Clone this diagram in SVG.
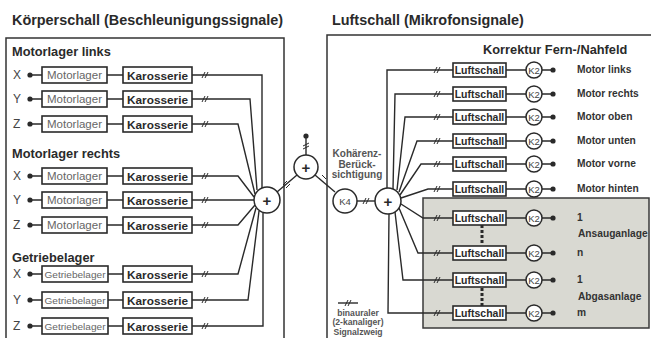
<svg xmlns="http://www.w3.org/2000/svg" width="651" height="338" viewBox="0 0 651 338">
<defs>
<style>
text{font-family:"Liberation Sans",Arial,sans-serif;fill:#2a2a2a}
.title{font-size:14.4px;font-weight:bold}
.sub{font-size:12.8px;font-weight:bold}
.axis{font-size:12px;fill:#444}
.ml{font-size:11.5px;fill:#666}
.gl{font-size:9px;fill:#666}
.kar{font-size:11.8px;font-weight:bold}
.lu{font-size:10.5px;font-weight:bold}
.k{font-size:9.5px;fill:#444}
.lab{font-size:10.2px;font-weight:bold;fill:#333}
.sm{font-size:10px;font-weight:bold;fill:#555}
.leg{font-size:8.6px;font-weight:bold;fill:#555}
.panel{fill:none;stroke:#333;stroke-width:1.5}
.box{fill:#fff;stroke:#2a2a2a;stroke-width:1.6}
.w{fill:none;stroke:#2a2a2a;stroke-width:1.4}
.c{fill:#fff;stroke:#2a2a2a;stroke-width:1.5}
.dot{fill:#2a2a2a}
.tick{fill:none;stroke:#2a2a2a;stroke-width:1}
.plus{font-size:15px;font-weight:bold;fill:#2a2a2a}
</style>
</defs>
<rect width="651" height="338" fill="#fff"/>
<text class="title" x="12" y="25">Körperschall (Beschleunigungssignale)</text>
<text class="title" x="332" y="25">Luftschall (Mikrofonsignale)</text>
<rect class="panel" x="6" y="38" width="278" height="310"/>
<rect class="panel" x="327" y="35" width="330" height="313"/>
<rect x="423" y="198" width="226" height="130" fill="#d9d9d2" stroke="#3a3a3a" stroke-width="1.5"/>

<g id="connectors">
<path class="w" d="M192 75H262V188"/>
<path class="w" d="M192 99H250L257 190"/>
<path class="w" d="M192 124H238L255 194"/>
<path class="w" d="M192 176H238L254 197"/>
<path class="w" d="M192 200H254"/>
<path class="w" d="M192 225H238L255 205"/>
<path class="w" d="M192 274H238L256 208"/>
<path class="w" d="M192 300H248L259 211"/>
<path class="w" d="M192 326H263V213"/>
<path class="w" d="M277 192L297 175"/>
<path class="w" d="M335 192L315 175"/>
<path class="w" d="M306 137V155"/>
<path class="w" d="M357 201H375"/>
<path class="w" d="M387 188V70H453"/>
<path class="w" d="M393 189L395 94H453"/>
<path class="w" d="M397 190L405 117H453"/>
<path class="w" d="M399 192L417 141H453"/>
<path class="w" d="M400 195L421 164H453"/>
<path class="w" d="M401 198L428 189H453"/>
<path class="w" d="M401 204L423 218H453"/>
<path class="w" d="M399 208L418 253H453"/>
<path class="w" d="M395 212L403 280H453"/>
<path class="w" d="M389 214L388 313H453"/>
<path class="w" d="M338 303H358"/>
<g class="tick">
<path d="M202 78L205 72M205 78L208 72"/>
<path d="M202 102L205 96M205 102L208 96"/>
<path d="M202 127L205 121M205 127L208 121"/>
<path d="M202 179L205 173M205 179L208 173"/>
<path d="M202 203L205 197M205 203L208 197"/>
<path d="M202 228L205 222M205 228L208 222"/>
<path d="M202 277L205 271M205 277L208 271"/>
<path d="M202 303L205 297M205 303L208 297"/>
<path d="M202 329L205 323M205 329L208 323"/>
<path d="M283 185L287 181M286 188L290 184"/>
<path d="M319 178L323 182M322 175L326 179"/>
<path d="M303 146L309 143M303 149L309 146"/>
<path d="M363 204L366 198M366 204L369 198"/>
<path d="M345 306L348 300M348 306L351 300"/>
<path d="M434 73L437 67M437 73L440 67"/>
<path d="M434 97L437 91M437 97L440 91"/>
<path d="M434 120L437 114M437 120L440 114"/>
<path d="M434 144L437 138M437 144L440 138"/>
<path d="M434 167L437 161M437 167L440 161"/>
<path d="M434 192L437 186M437 192L440 186"/>
<path d="M434 221L437 215M437 221L440 215"/>
<path d="M434 256L437 250M437 256L440 250"/>
<path d="M434 283L437 277M437 283L440 277"/>
<path d="M434 316L437 310M437 316L440 310"/>
</g>
<circle class="dot" cx="306" cy="136" r="2.6"/>
<path d="M482 225V244" stroke="#2a2a2a" stroke-width="3" stroke-dasharray="3 2" fill="none"/>
<path d="M482 288V306" stroke="#2a2a2a" stroke-width="3" stroke-dasharray="3 2" fill="none"/>
</g>

<text class="sub" x="12" y="56">Motorlager links</text>
<text class="sub" x="12" y="158">Motorlager rechts</text>
<text class="sub" x="12" y="262">Getriebelager</text>

<g id="ml-x">
<text class="axis" x="13" y="79">X</text><circle class="dot" cx="30" cy="75" r="2.6"/>
<path class="w" d="M30 75H42M107 75H123"/>
<rect class="box" x="42" y="67" width="65" height="16"/><text class="ml" x="74.5" y="79" text-anchor="middle">Motorlager</text>
<rect class="box" x="123" y="67" width="69" height="16"/><text class="kar" x="157.5" y="79.5" text-anchor="middle">Karosserie</text>
</g>
<g id="ml-y">
<text class="axis" x="13" y="103">Y</text><circle class="dot" cx="30" cy="99" r="2.6"/>
<path class="w" d="M30 99H42M107 99H123"/>
<rect class="box" x="42" y="91" width="65" height="16"/><text class="ml" x="74.5" y="103" text-anchor="middle">Motorlager</text>
<rect class="box" x="123" y="91" width="69" height="16"/><text class="kar" x="157.5" y="103.5" text-anchor="middle">Karosserie</text>
</g>
<g id="ml-z">
<text class="axis" x="13" y="128">Z</text><circle class="dot" cx="30" cy="124" r="2.6"/>
<path class="w" d="M30 124H42M107 124H123"/>
<rect class="box" x="42" y="116" width="65" height="16"/><text class="ml" x="74.5" y="128" text-anchor="middle">Motorlager</text>
<rect class="box" x="123" y="116" width="69" height="16"/><text class="kar" x="157.5" y="128.5" text-anchor="middle">Karosserie</text>
</g>
<g id="mr-x">
<text class="axis" x="13" y="180">X</text><circle class="dot" cx="30" cy="176" r="2.6"/>
<path class="w" d="M30 176H42M107 176H123"/>
<rect class="box" x="42" y="168" width="65" height="16"/><text class="ml" x="74.5" y="180" text-anchor="middle">Motorlager</text>
<rect class="box" x="123" y="168" width="69" height="16"/><text class="kar" x="157.5" y="180.5" text-anchor="middle">Karosserie</text>
</g>
<g id="mr-y">
<text class="axis" x="13" y="204">Y</text><circle class="dot" cx="30" cy="200" r="2.6"/>
<path class="w" d="M30 200H42M107 200H123"/>
<rect class="box" x="42" y="192" width="65" height="16"/><text class="ml" x="74.5" y="204" text-anchor="middle">Motorlager</text>
<rect class="box" x="123" y="192" width="69" height="16"/><text class="kar" x="157.5" y="204.5" text-anchor="middle">Karosserie</text>
</g>
<g id="mr-z">
<text class="axis" x="13" y="229">Z</text><circle class="dot" cx="30" cy="225" r="2.6"/>
<path class="w" d="M30 225H42M107 225H123"/>
<rect class="box" x="42" y="217" width="65" height="16"/><text class="ml" x="74.5" y="229" text-anchor="middle">Motorlager</text>
<rect class="box" x="123" y="217" width="69" height="16"/><text class="kar" x="157.5" y="229.5" text-anchor="middle">Karosserie</text>
</g>
<g id="gl-x">
<text class="axis" x="13" y="278">X</text><circle class="dot" cx="30" cy="274" r="2.6"/>
<path class="w" d="M30 274H42M108 274H123"/>
<rect class="box" x="42" y="266" width="66" height="16"/><text class="gl" x="75" y="277.5" text-anchor="middle" textLength="61" lengthAdjust="spacingAndGlyphs">Getriebelager</text>
<rect class="box" x="123" y="266" width="69" height="16"/><text class="kar" x="157.5" y="278.5" text-anchor="middle">Karosserie</text>
</g>
<g id="gl-y">
<text class="axis" x="13" y="304">Y</text><circle class="dot" cx="30" cy="300" r="2.6"/>
<path class="w" d="M30 300H42M108 300H123"/>
<rect class="box" x="42" y="292" width="66" height="16"/><text class="gl" x="75" y="303.5" text-anchor="middle" textLength="61" lengthAdjust="spacingAndGlyphs">Getriebelager</text>
<rect class="box" x="123" y="292" width="69" height="16"/><text class="kar" x="157.5" y="304.5" text-anchor="middle">Karosserie</text>
</g>
<g id="gl-z">
<text class="axis" x="13" y="330">Z</text><circle class="dot" cx="30" cy="326" r="2.6"/>
<path class="w" d="M30 326H42M108 326H123"/>
<rect class="box" x="42" y="318" width="66" height="16"/><text class="gl" x="75" y="329.5" text-anchor="middle" textLength="61" lengthAdjust="spacingAndGlyphs">Getriebelager</text>
<rect class="box" x="123" y="318" width="69" height="16"/><text class="kar" x="157.5" y="330.5" text-anchor="middle">Karosserie</text>
</g>

<g id="sum-left"><circle class="c" cx="267" cy="200" r="13"/><text class="plus" x="267" y="205.5" text-anchor="middle">+</text></g>
<g id="sum-mid"><circle class="c" cx="306" cy="167" r="12"/><text class="plus" x="306" y="172.5" text-anchor="middle">+</text></g>
<g id="k4"><circle class="c" cx="345" cy="201" r="12"/><text class="k" x="345" y="204.5" text-anchor="middle" font-size="10">K4</text></g>
<g id="sum-right"><circle class="c" cx="388" cy="201" r="13"/><text class="plus" x="388" y="206.5" text-anchor="middle">+</text></g>
<text class="sm" x="357" y="157" text-anchor="middle">Kohärenz-</text>
<text class="sm" x="357" y="167.5" text-anchor="middle">Berück-</text>
<text class="sm" x="357" y="178" text-anchor="middle">sichtigung</text>

<text class="sub" x="483" y="54" font-size="13.5">Korrektur Fern-/Nahfeld</text>

<g id="r1"><rect class="box" x="453" y="63" width="53" height="14"/><text class="lu" x="479.5" y="74" text-anchor="middle">Luftschall</text><path class="w" d="M506 70H526M542 70H553"/><circle class="c" cx="534" cy="70" r="8"/><text class="k" x="534" y="73.5" text-anchor="middle">K2</text><circle class="dot" cx="553" cy="70" r="2.6"/><text class="lab" x="577" y="73">Motor links</text></g>
<g id="r2"><rect class="box" x="453" y="87" width="53" height="14"/><text class="lu" x="479.5" y="98" text-anchor="middle">Luftschall</text><path class="w" d="M506 94H526M542 94H553"/><circle class="c" cx="534" cy="94" r="8"/><text class="k" x="534" y="97.5" text-anchor="middle">K2</text><circle class="dot" cx="553" cy="94" r="2.6"/><text class="lab" x="577" y="97">Motor rechts</text></g>
<g id="r3"><rect class="box" x="453" y="110" width="53" height="14"/><text class="lu" x="479.5" y="121" text-anchor="middle">Luftschall</text><path class="w" d="M506 117H526M542 117H553"/><circle class="c" cx="534" cy="117" r="8"/><text class="k" x="534" y="120.5" text-anchor="middle">K2</text><circle class="dot" cx="553" cy="117" r="2.6"/><text class="lab" x="577" y="120">Motor oben</text></g>
<g id="r4"><rect class="box" x="453" y="134" width="53" height="14"/><text class="lu" x="479.5" y="145" text-anchor="middle">Luftschall</text><path class="w" d="M506 141H526M542 141H553"/><circle class="c" cx="534" cy="141" r="8"/><text class="k" x="534" y="144.5" text-anchor="middle">K2</text><circle class="dot" cx="553" cy="141" r="2.6"/><text class="lab" x="577" y="144">Motor unten</text></g>
<g id="r5"><rect class="box" x="453" y="157" width="53" height="14"/><text class="lu" x="479.5" y="168" text-anchor="middle">Luftschall</text><path class="w" d="M506 164H526M542 164H553"/><circle class="c" cx="534" cy="164" r="8"/><text class="k" x="534" y="167.5" text-anchor="middle">K2</text><circle class="dot" cx="553" cy="164" r="2.6"/><text class="lab" x="577" y="167">Motor vorne</text></g>
<g id="r6"><rect class="box" x="453" y="182" width="53" height="14"/><text class="lu" x="479.5" y="193" text-anchor="middle">Luftschall</text><path class="w" d="M506 189H526M542 189H553"/><circle class="c" cx="534" cy="189" r="8"/><text class="k" x="534" y="192.5" text-anchor="middle">K2</text><circle class="dot" cx="553" cy="189" r="2.6"/><text class="lab" x="577" y="192">Motor hinten</text></g>
<g id="r7"><rect class="box" x="453" y="211" width="53" height="14"/><text class="lu" x="479.5" y="222" text-anchor="middle">Luftschall</text><path class="w" d="M506 218H526M542 218H553"/><circle class="c" cx="534" cy="218" r="8"/><text class="k" x="534" y="221.5" text-anchor="middle">K2</text><circle class="dot" cx="553" cy="218" r="2.6"/><text class="lab" x="577" y="221">1</text></g>
<g id="r8"><rect class="box" x="453" y="246" width="53" height="14"/><text class="lu" x="479.5" y="257" text-anchor="middle">Luftschall</text><path class="w" d="M506 253H526M542 253H553"/><circle class="c" cx="534" cy="253" r="8"/><text class="k" x="534" y="256.5" text-anchor="middle">K2</text><circle class="dot" cx="553" cy="253" r="2.6"/><text class="lab" x="577" y="256">n</text></g>
<g id="r9"><rect class="box" x="453" y="273" width="53" height="14"/><text class="lu" x="479.5" y="284" text-anchor="middle">Luftschall</text><path class="w" d="M506 280H526M542 280H553"/><circle class="c" cx="534" cy="280" r="8"/><text class="k" x="534" y="283.5" text-anchor="middle">K2</text><circle class="dot" cx="553" cy="280" r="2.6"/><text class="lab" x="577" y="283">1</text></g>
<g id="r10"><rect class="box" x="453" y="306" width="53" height="14"/><text class="lu" x="479.5" y="317" text-anchor="middle">Luftschall</text><path class="w" d="M506 313H526M542 313H553"/><circle class="c" cx="534" cy="313" r="8"/><text class="k" x="534" y="316.5" text-anchor="middle">K2</text><circle class="dot" cx="553" cy="313" r="2.6"/><text class="lab" x="577" y="316">m</text></g>
<text class="lab" x="578" y="237">Ansauganlage</text>
<text class="lab" x="578" y="300">Abgasanlage</text>

<text class="leg" x="358" y="315.5" text-anchor="middle">binauraler</text>
<text class="leg" x="358" y="325.3" text-anchor="middle">(2-kanaliger)</text>
<text class="leg" x="358" y="335" text-anchor="middle">Signalzweig</text>
</svg>
